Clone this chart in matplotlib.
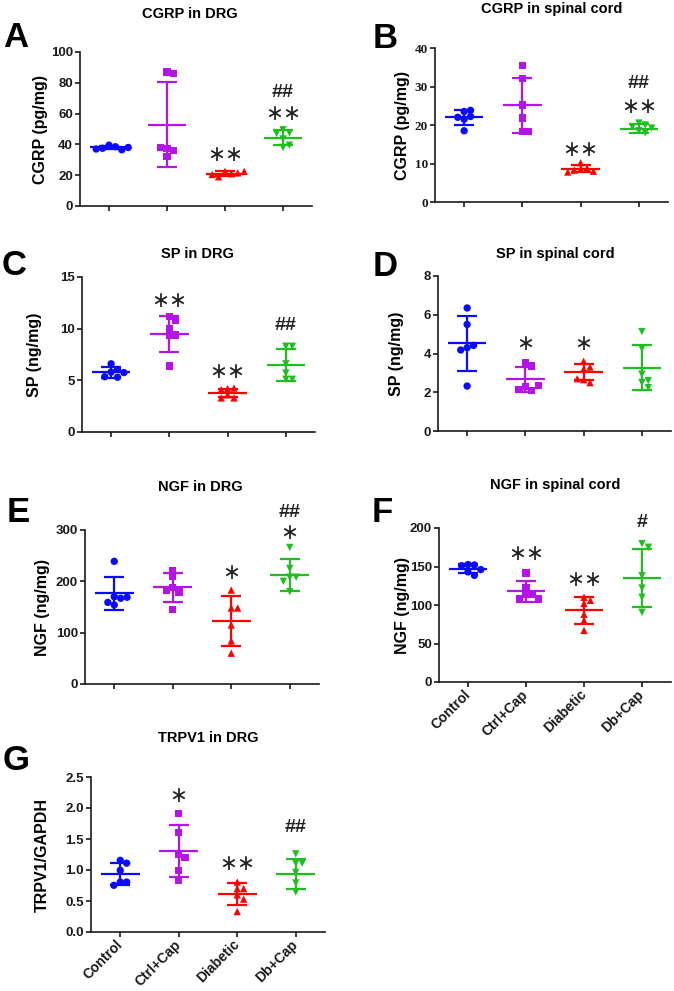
import numpy as np
import matplotlib
matplotlib.use("Agg")
import matplotlib.pyplot as plt

# ---------------- data ----------------
groups = ["Control", "Ctrl+Cap", "Diabetic", "Db+Cap"]
colors = ["#0a0aff", "#b414e6", "#ff0000", "#1fbf1f"]
markers = ["o", "s", "^", "v"]

# Panel A: CGRP in DRG (pg/mg)
a_pts = [[39.5, 38.5, 37.5, 36.5, 37.0, 38.0],
         [87.0, 86.0, 37.5, 32.0, 36.0, 38.0],
         [22.5, 21.0, 19.0, 21.5, 20.5, 22.5],
         [49.5, 47.5, 47.0, 43.5, 38.0, 39.5]]
a_mean = [38.0, 52.7, 21.0, 44.2]
a_sd = [1.0, 27.5, 1.5, 4.9]
a_ann = [("", None), ("", None), ("∗∗", 33), ("∗∗", 59.5)]
a_hash = [("", None), ("", None), ("", None), ("##", 73.5)]

# Panel B: CGRP in spinal cord (pg/mg)
b_pts = [[23.5, 23.8, 22.2, 21.5, 22.0, 18.5],
         [35.4, 32.1, 25.2, 21.8, 18.3, 18.3],
         [10.2, 8.8, 8.5, 8.3, 8.0, 7.8],
         [20.5, 20.0, 19.5, 18.5, 18.0, 19.2]]
b_mean = [22.0, 25.1, 8.7, 19.0]
b_sd = [2.0, 7.1, 0.8, 1.2]
b_ann = [("", None), ("", None), ("∗∗", 13.6), ("∗∗", 24.8)]
b_hash = [("", None), ("", None), ("", None), ("##", 30.7)]

# Panel C: SP in DRG (ng/mg)
c_pts = [[6.6, 6.05, 5.8, 5.3, 5.35, 5.75],
         [11.2, 10.8, 10.0, 9.4, 9.4, 6.4],
         [4.2, 4.25, 4.1, 3.6, 3.3, 3.3],
         [8.3, 8.3, 6.6, 5.7, 5.1, 5.1]]
c_mean = [5.77, 9.52, 3.79, 6.48]
c_sd = [0.5, 1.75, 0.4, 1.55]
c_ann = [("", None), ("∗∗", 12.7), ("∗∗", 5.8), ("", None)]
c_hash = [("", None), ("", None), ("", None), ("##", 10.3)]

# Panel D: SP in spinal cord (ng/mg)
d_pts = [[6.35, 5.5, 4.3, 4.42, 4.18, 2.32],
         [3.55, 3.35, 2.3, 2.1, 2.15, 2.35],
         [3.6, 3.3, 3.2, 2.65, 2.5, 2.7],
         [5.13, 4.25, 2.93, 2.5, 2.24, 2.6]]
d_mean = [4.53, 2.67, 3.05, 3.27]
d_sd = [1.42, 0.65, 0.42, 1.15]
d_ann = [("", None), ("∗", 4.5), ("∗", 4.5), ("", None)]
d_hash = [("", None), ("", None), ("", None), ("", None)]

# Panel E: NGF in DRG (ng/mg)
e_pts = [[239, 170, 167, 159, 154, 169],
         [221, 209, 188, 179, 183, 144.5],
         [183, 148, 148, 115, 84, 60],
         [266, 225, 208, 208, 200, 180]]
e_mean = [177, 188, 123, 212.5]
e_sd = [32, 28, 48, 31]
e_ann = [("", None), ("", None), ("∗", 216), ("∗", 293.6)]
e_hash = [("", None), ("", None), ("", None), ("##", 333.7)]

# Panel F: NGF in spinal cord (ng/mg)
f_pts = [[152.5, 152, 151, 143, 138.5, 146],
         [141.5, 123, 114, 114, 108, 108],
         [110, 106, 102, 88, 80, 67],
         [179.7, 175, 138, 122, 110, 90.5]]
f_mean = [147.2, 118, 93, 135]
f_sd = [5.5, 13.5, 18, 38]
f_ann = [("", None), ("∗∗", 166.7), ("∗∗", 133), ("", None)]
f_hash = [("", None), ("", None), ("", None), ("#", 206.5)]

# Panel G: TRPV1/GAPDH in DRG
g_pts = [[1.156, 1.11, 0.995, 0.806, 0.806, 0.753],
         [1.91, 1.61, 1.25, 1.2, 0.995, 0.83],
         [0.806, 0.7, 0.7, 0.6, 0.53, 0.33],
         [1.26, 1.11, 1.11, 0.96, 0.79, 0.645]]
g_mean = [0.94, 1.30, 0.61, 0.93]
g_sd = [0.18, 0.42, 0.18, 0.24]
g_ann = [("", None), ("∗", 2.2), ("∗∗", 1.1), ("", None)]
g_hash = [("", None), ("", None), ("", None), ("##", 1.68)]

panels = [
    dict(letter="A", title="CGRP in DRG", ylabel="CGRP (pg/mg)", pts=a_pts, mean=a_mean, sd=a_sd,
         ann=a_ann, hsh=a_hash, yticks=[0, 20, 40, 60, 80, 100], ylim=(0, 100), fmt="{:g}",
         box=(80, 312, 52, 206), serif=False, xlabels=False,
         title_xy=(190, 14), letter_xy=(3, 47), ylab_x=40),
    dict(letter="B", title="CGRP in spinal cord", ylabel="CGRP (pg/mg)", pts=b_pts, mean=b_mean, sd=b_sd,
         ann=b_ann, hsh=b_hash, yticks=[0, 10, 20, 30, 40], ylim=(0, 40), fmt="{:g}",
         box=(435, 668, 48, 202), serif=True, xlabels=False,
         title_xy=(552, 9), letter_xy=(373, 48), ylab_x=403),
    dict(letter="C", title="SP in DRG", ylabel="SP (ng/mg)", pts=c_pts, mean=c_mean, sd=c_sd,
         ann=c_ann, hsh=c_hash, yticks=[0, 5, 10, 15], ylim=(0, 15), fmt="{:g}",
         box=(82, 315, 277, 432), serif=False, xlabels=False,
         title_xy=(197, 254), letter_xy=(2, 275), ylab_x=35),
    dict(letter="D", title="SP in spinal cord", ylabel="SP (ng/mg)", pts=d_pts, mean=d_mean, sd=d_sd,
         ann=d_ann, hsh=d_hash, yticks=[0, 2, 4, 6, 8], ylim=(0, 8), fmt="{:g}",
         box=(438, 671, 276, 431), serif=False, xlabels=False,
         title_xy=(555, 254), letter_xy=(373, 276), ylab_x=397),
    dict(letter="E", title="NGF in DRG", ylabel="NGF (ng/mg)", pts=e_pts, mean=e_mean, sd=e_sd,
         ann=e_ann, hsh=e_hash, yticks=[0, 100, 200, 300], ylim=(0, 300), fmt="{:g}",
         box=(85, 319, 530, 684), serif=False, xlabels=False,
         title_xy=(200, 487), letter_xy=(7, 522), ylab_x=42),
    dict(letter="F", title="NGF in spinal cord", ylabel="NGF (ng/mg)", pts=f_pts, mean=f_mean, sd=f_sd,
         ann=f_ann, hsh=f_hash, yticks=[0, 50, 100, 150, 200], ylim=(0, 200), fmt="{:g}",
         box=(439, 671, 528, 682), serif=False, xlabels=True,
         title_xy=(555, 485), letter_xy=(372, 522), ylab_x=402),
    dict(letter="G", title="TRPV1 in DRG", ylabel="TRPV1/GAPDH", pts=g_pts, mean=g_mean, sd=g_sd,
         ann=g_ann, hsh=g_hash, yticks=[0.0, 0.5, 1.0, 1.5, 2.0, 2.5], ylim=(0, 2.5), fmt="{:.1f}",
         box=(91, 325, 777, 932), serif=False, xlabels=True,
         title_xy=(208, 738), letter_xy=(3, 770), ylab_x=42),
]

W, H = 674, 991
fig = plt.figure(figsize=(W / 100, H / 100), dpi=100)
SANS = "Liberation Sans"
SERIF = "Liberation Serif"
AXC = "#1a1a1a"


def swarm_offsets(vals, sx, sy, diam=6.4):
    """simple beeswarm: returns x offsets (data units) so markers don't overlap"""
    placed = []
    offs = []
    for v in vals:
        ypx = v * sy
        chosen = 0.0
        for k in [0, 1, -1, 2, -2, 3, -3, 4, -4]:
            xpx = k * diam
            ok = all((xpx - px) ** 2 + (ypx - py) ** 2 >= (diam * 0.95) ** 2 for px, py in placed)
            if ok:
                chosen = xpx
                break
        placed.append((chosen, ypx))
        offs.append(chosen / sx)
    return offs


for p in panels:
    l, r, t, b = p["box"]
    ax = fig.add_axes([l / W, 1 - b / H, (r - l) / W, (b - t) / H])
    ax.set_xlim(-0.5, 3.5)
    ax.set_ylim(*p["ylim"])
    sx = (r - l) / 4.0
    sy = (b - t) / (p["ylim"][1] - p["ylim"][0])
    for i in range(4):
        vals = p["pts"][i]
        offs = swarm_offsets(vals, sx, sy)
        xs = [i + o for o in offs]
        ax.scatter(xs, vals, marker=markers[i], s=28, color=colors[i], edgecolors="none",
                   zorder=3, clip_on=False)
        m, s = p["mean"][i], p["sd"][i]
        ax.hlines(m, i - 0.33, i + 0.33, color=colors[i], lw=1.6, zorder=4)
        ax.vlines(i, m - s, m + s, color=colors[i], lw=1.6, zorder=4)
        ax.hlines([m - s, m + s], i - 0.17, i + 0.17, color=colors[i], lw=1.6, zorder=4)
        txt, y = p["ann"][i]
        if txt:
            ax.text(i, y, txt, ha="center", va="center", fontsize=15.5, color="#222222",
                    family="DejaVu Sans", clip_on=False)
        txt, y = p["hsh"][i]
        if txt:
            ax.text(i, y, txt, ha="center", va="center", fontsize=14, color="#222222",
                    family=SANS, fontweight="bold", clip_on=False)

    for sp in ["top", "right"]:
        ax.spines[sp].set_visible(False)
    for sp in ["left", "bottom"]:
        ax.spines[sp].set_linewidth(1.2)
        ax.spines[sp].set_color(AXC)
    ax.tick_params(axis="y", direction="out", length=3.5, width=1.2, color=AXC, pad=1.5)
    ax.tick_params(axis="x", direction="out", length=3.5, width=1.2, color=AXC, pad=4)
    ax.set_yticks(p["yticks"])
    tickfam = SERIF if p["serif"] else SANS
    ax.set_yticklabels([p["fmt"].format(v) for v in p["yticks"]], family=tickfam,
                       fontweight="bold", fontsize=9.5, color=AXC)
    ax.set_xticks(range(4))
    if p["xlabels"]:
        ax.set_xticklabels(groups, rotation=45, ha="right", va="center", rotation_mode="anchor",
                           family=SANS, fontweight="bold", fontsize=10, color=AXC)
    else:
        ax.set_xticklabels([])
    ax.set_ylabel(p["ylabel"], family=SANS, fontweight="bold", fontsize=11.5, color="black")
    ax.yaxis.set_label_coords((p["ylab_x"] - l) / (r - l), 0.5)
    ax.yaxis.label.set_va("center")
    tx, ty = p["title_xy"]
    fig.text(tx / W, 1 - ty / H, p["title"], family=SANS, fontweight="bold", fontsize=10.5,
             color="black", ha="center", va="center")
    lx, ly = p["letter_xy"]
    fig.text(lx / W, 1 - ly / H, p["letter"], family=SANS, fontweight="bold",
             fontsize=25, ha="left", va="baseline", color="black")

fig.savefig("out.png", dpi=100, facecolor="white")
